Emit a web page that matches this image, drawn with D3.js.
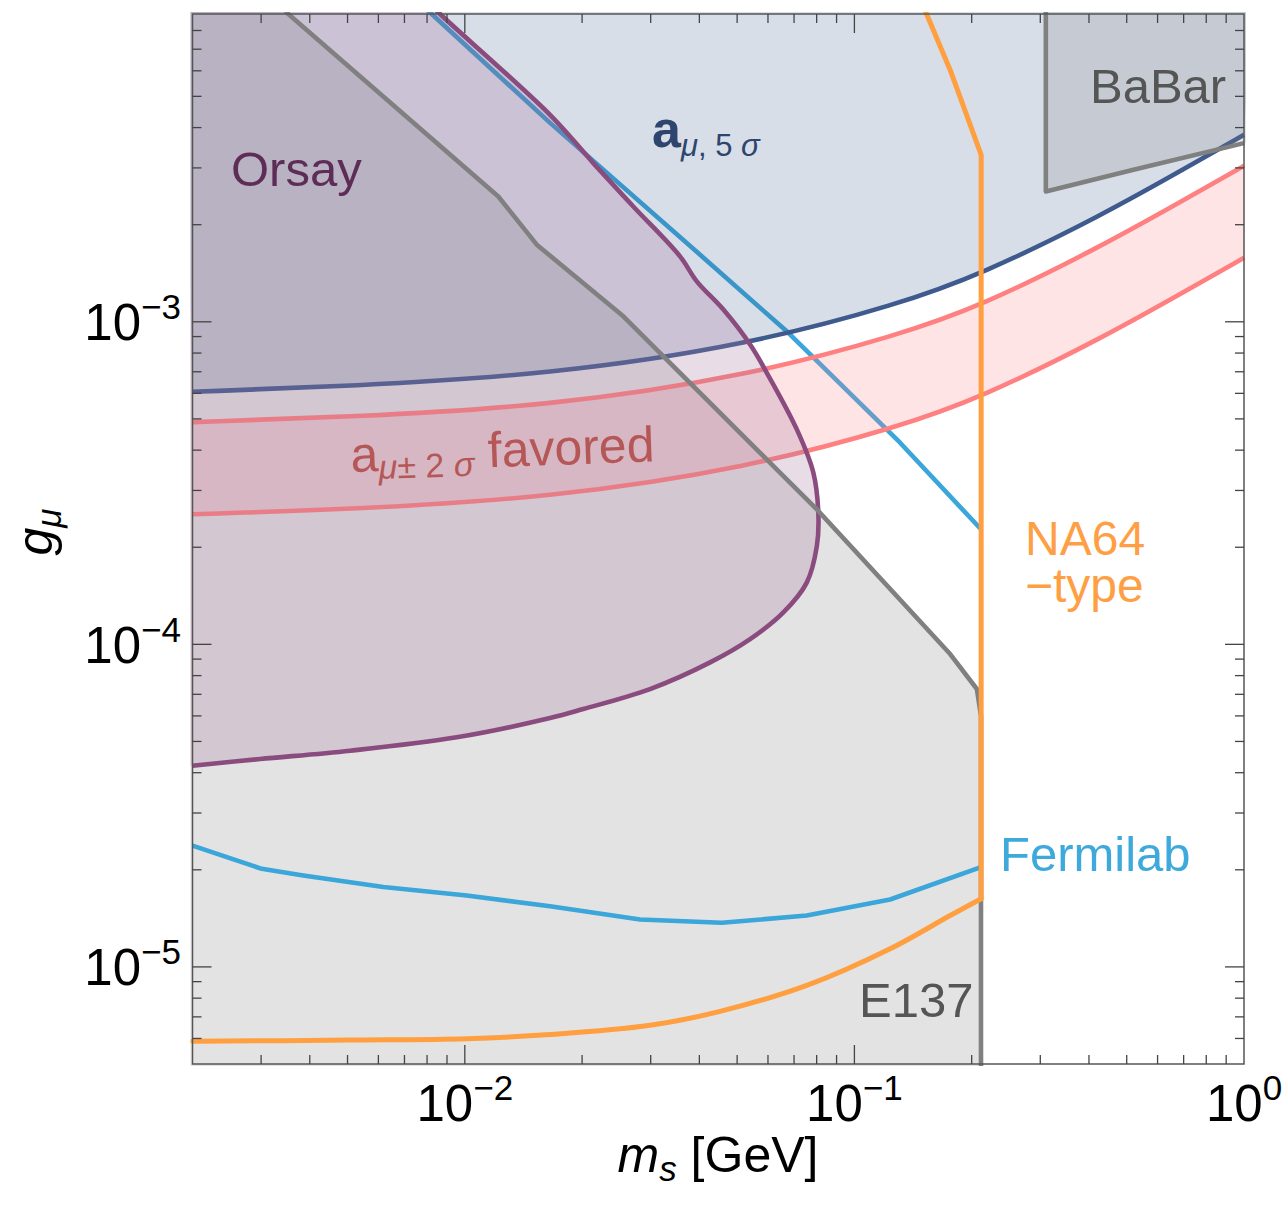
<!DOCTYPE html>
<html>
<head>
<meta charset="utf-8">
<script src="https://cdn.jsdelivr.net/npm/d3@7"></script>
<style>
  body { margin: 0; background: #fff; }
  svg { display: block; font-family: "Liberation Sans", Arial, Helvetica, sans-serif; }
</style>
</head>
<body>
<svg id="chart" width="1287" height="1206"></svg>
<script>
// axis ranges: scalar mass m_s [GeV] and coupling g_mu
const xDomain = [0.002, 1];
const yDomain = [5e-6, 9e-3];
const xMajor = [0.01, 0.1, 1];
const xMajorExp = ["\u22122", "\u22121", "0"];
const yMajor = [1e-5, 1e-4, 1e-3];
const yMajorExp = ["\u22125", "\u22124", "\u22123"];

// E137 exclusion boundary [m, g]
const e137 = [[0.00345, 0.0093], [0.003523, 0.009], [0.01219, 0.002446], [0.0153, 0.001734],
  [0.02552, 0.00104], [0.0801, 2.62e-4], [0.1761, 9.33e-5], [0.2062, 7.27e-5],
  [0.2113, 6.0e-5], [0.2113, 4.9e-6]];

// a_mu 5 sigma boundary
const amu5 = [[0.002, 6.067e-4], [0.005074, 6.315e-4], [0.01655, 6.863e-4], [0.05399, 8.5e-4],
  [0.131, 0.001138], [0.2103, 0.0014], [0.4273, 0.00212], [0.7719, 0.003178], [1.0, 0.0038]];

// a_mu +-2 sigma favoured band
const amuHi = [[0.002, 4.886e-4], [0.005074, 5.07e-4], [0.01655, 5.474e-4], [0.05399, 6.814e-4],
  [0.131, 9.13e-4], [0.2103, 0.001117], [0.4273, 0.001703], [0.7719, 0.002548], [1.0, 0.003046]];
const amuLo = [[0.002, 2.53e-4], [0.005074, 2.622e-4], [0.01655, 2.845e-4], [0.05399, 3.536e-4],
  [0.131, 4.737e-4], [0.2103, 5.813e-4], [0.4273, 8.827e-4], [0.7719, 0.001322], [1.0, 0.00158]];

// Orsay exclusion contour
const orsay = [[0.008141, 0.009663], [0.008636, 0.009], [0.01655, 0.004381], [0.02137, 0.003105],
  [0.02707, 0.002278], [0.03568, 0.001595], [0.03939, 0.001335], [0.0461, 0.001091],
  [0.05399, 8.5e-4], [0.05959, 6.947e-4], [0.07115, 4.638e-4], [0.07846, 3.405e-4],
  [0.08082, 2.53e-4], [0.0801, 2.018e-4], [0.07545, 1.554e-4], [0.06572, 1.256e-4],
  [0.05399, 1.038e-4], [0.04262, 8.79e-5], [0.02988, 7.265e-5], [0.02014, 6.302e-5],
  [0.01655, 5.91e-5], [0.009533, 5.15e-5], [0.005074, 4.68e-5], [0.002981, 4.41e-5],
  [0.002, 4.206e-5]];

// Fermilab projected reach (lower edge, upper edge)
const fermiLow = [[0.002, 2.377e-5], [0.003011, 2.014e-5], [0.00385, 1.92e-5], [0.006177, 1.768e-5],
  [0.01011, 1.665e-5], [0.01655, 1.541e-5], [0.02818, 1.403e-5], [0.04566, 1.37e-5],
  [0.07545, 1.443e-5], [0.1235, 1.618e-5], [0.2113, 2.038e-5]];
const fermiHigh = [[0.2113, 2.274e-4], [0.131, 4.218e-4], [0.06758, 9.26e-4], [0.04017, 0.001614],
  [0.01655, 0.004137], [0.008222, 0.009], [0.0079, 0.0094]];

// NA64-type reach
const na64Low = [[0.002, 5.88e-6], [0.005074, 5.93e-6], [0.01011, 5.99e-6], [0.01655, 6.17e-6],
  [0.02988, 6.59e-6], [0.04519, 7.28e-6], [0.07545, 8.76e-6], [0.1235, 1.138e-5],
  [0.1761, 1.443e-5], [0.2115, 1.626e-5]];
const na64High = [[0.2115, 1.626e-5], [0.2115, 0.003293], [0.1761, 0.006037], [0.1528, 0.009065],
  [0.1492, 0.00966]];

// BaBar exclusion
const babar = [[0.31, 0.0095], [0.31, 0.002535], [0.5204, 0.00296], [1.0, 0.00358]];

const svg = d3.select('#chart');
const margin = { left: 192.5, top: 14, right: 1244, bottom: 1064 };

const x = d3.scaleLog().domain(xDomain).range([margin.left, margin.right]);
const y = d3.scaleLog().domain(yDomain).range([margin.bottom, margin.top]);

const smooth = d3.line().x(d => x(d[0])).y(d => y(d[1])).curve(d3.curveCatmullRom.alpha(0.5));
const basis = d3.line().x(d => x(d[0])).y(d => y(d[1])).curve(d3.curveBasis);
const straight = d3.line().x(d => x(d[0])).y(d => y(d[1]));
const pt = d => x(d[0]) + ',' + y(d[1]);
const LW = 4.6;

svg.append('clipPath').attr('id', 'plotclip')
  .append('rect')
  .attr('x', margin.left - 2).attr('y', margin.top - 2)
  .attr('width', margin.right - margin.left + 4).attr('height', margin.bottom - margin.top + 4);

const plot = svg.append('g').attr('clip-path', 'url(#plotclip)');
const loX = 0.0019, hiX = 1.05, loY = 4.8e-6, hiY = 0.0097;

// E137 fill
plot.append('path')
  .attr('d', straight(e137) + 'L' + pt([loX, loY]) + 'L' + pt([loX, hiY]) + 'Z')
  .attr('fill', '#e3e3e3');

// Fermilab lines go under the translucent fills
[fermiLow, fermiHigh].forEach(s => {
  plot.append('path').attr('d', straight(s))
    .attr('fill', 'none').attr('stroke', '#3aa6d9').attr('stroke-width', LW).attr('stroke-linejoin', 'round');
});

// a_mu 5 sigma region
plot.append('path')
  .attr('d', basis(amu5) + 'L' + pt([hiX, hiY]) + 'L' + pt([loX, hiY]) + 'Z')
  .attr('fill', 'rgb(61,90,140)').attr('fill-opacity', 0.2);
plot.append('path').attr('d', basis(amu5))
  .attr('fill', 'none').attr('stroke', '#3f5b8e').attr('stroke-width', LW);

// a_mu +-2 sigma band
const bandPath = basis(amuHi) + 'L' + basis(amuLo.slice().reverse()).slice(1) + 'Z';
plot.append('path').attr('d', bandPath)
  .attr('fill', 'rgb(255,130,140)').attr('fill-opacity', 0.22);
[amuHi, amuLo].forEach(s => {
  plot.append('path').attr('d', basis(s))
    .attr('fill', 'none').attr('stroke', '#ff8080').attr('stroke-width', LW);
});

// Orsay region
plot.append('path')
  .attr('d', smooth(orsay) + 'L' + pt([loX, orsay[orsay.length - 1][1]]) + 'L' + pt([loX, hiY]) + 'Z')
  .attr('fill', 'rgb(163,115,155)').attr('fill-opacity', 0.25);
plot.append('path').attr('d', smooth(orsay))
  .attr('fill', 'none').attr('stroke', '#8a4c7e').attr('stroke-width', LW);

// E137 boundary
plot.append('path').attr('d', straight(e137))
  .attr('fill', 'none').attr('stroke', '#808080').attr('stroke-width', LW).attr('stroke-linejoin', 'round');

// BaBar
plot.append('path')
  .attr('d', straight(babar) + 'L' + pt([hiX, babar[3][1]]) + 'L' + pt([hiX, hiY]) + 'Z')
  .attr('fill', 'rgb(128,128,128)').attr('fill-opacity', 0.2);
plot.append('path').attr('d', straight(babar))
  .attr('fill', 'none').attr('stroke', '#808080').attr('stroke-width', LW).attr('stroke-linejoin', 'round');

// NA64-type
plot.append('path').attr('d', smooth(na64Low))
  .attr('fill', 'none').attr('stroke', '#ff9f40').attr('stroke-width', 5).attr('stroke-linecap', 'round');
plot.append('path').attr('d', straight(na64High))
  .attr('fill', 'none').attr('stroke', '#ff9f40').attr('stroke-width', 5)
  .attr('stroke-linecap', 'round').attr('stroke-linejoin', 'round');

// frame and ticks
const frame = svg.append('g');
frame.append('rect')
  .attr('x', margin.left).attr('y', margin.top)
  .attr('width', margin.right - margin.left).attr('height', margin.bottom - margin.top)
  .attr('fill', 'none').attr('stroke', '#555').attr('stroke-width', 1.5);

const xTicks = x.ticks().filter(v => v > xDomain[0] * 1.01 && v < xDomain[1] * 0.99);
const yTicks = y.ticks().filter(v => v > yDomain[0] * 1.01 && v < yDomain[1] * 0.99);
const isMajor = v => Math.abs(Math.log10(v) - Math.round(Math.log10(v))) < 1e-6;

xTicks.forEach(v => {
  const len = isMajor(v) ? 19 : 9;
  frame.append('line').attr('x1', x(v)).attr('x2', x(v))
    .attr('y1', margin.bottom).attr('y2', margin.bottom - len)
    .attr('stroke', '#444').attr('stroke-width', 1.3);
  frame.append('line').attr('x1', x(v)).attr('x2', x(v))
    .attr('y1', margin.top).attr('y2', margin.top + len)
    .attr('stroke', '#444').attr('stroke-width', 1.3);
});
yTicks.forEach(v => {
  const len = isMajor(v) ? 19 : 9;
  frame.append('line').attr('y1', y(v)).attr('y2', y(v))
    .attr('x1', margin.left).attr('x2', margin.left + len)
    .attr('stroke', '#444').attr('stroke-width', 1.3);
  frame.append('line').attr('y1', y(v)).attr('y2', y(v))
    .attr('x1', margin.right).attr('x2', margin.right - len)
    .attr('stroke', '#444').attr('stroke-width', 1.3);
});

// tick labels
xMajor.forEach((v, i) => {
  const t = svg.append('text').attr('x', x(v)).attr('y', 1121)
    .attr('text-anchor', 'middle').attr('font-size', 51).attr('fill', '#000');
  t.append('tspan').text('10');
  t.append('tspan').attr('font-size', 35).attr('dy', -21).text(xMajorExp[i]);
});
yMajor.forEach((v, i) => {
  const t = svg.append('text').attr('x', 181).attr('y', y(v) + 18.5)
    .attr('text-anchor', 'end').attr('font-size', 51).attr('fill', '#000');
  t.append('tspan').text('10');
  t.append('tspan').attr('font-size', 35).attr('dy', -21).text(yMajorExp[i]);
});

// axis titles
const xt = svg.append('text').attr('x', 718).attr('y', 1172)
  .attr('text-anchor', 'middle').attr('font-size', 50).attr('fill', '#000');
xt.append('tspan').attr('font-style', 'italic').text('m');
xt.append('tspan').attr('font-style', 'italic').attr('font-size', 35).attr('dy', 9).text('s');
xt.append('tspan').attr('dy', -9).text(' [GeV]');

const yt = svg.append('text').attr('transform', 'translate(52,532) rotate(-90)')
  .attr('text-anchor', 'middle').attr('font-size', 50).attr('fill', '#000');
yt.append('tspan').attr('font-style', 'italic').text('g');
yt.append('tspan').attr('font-style', 'italic').attr('font-size', 35).attr('dy', 9).text('\u03bc');

// region labels
const label = (tx, ty, str, color, fs) => svg.append('text').attr('x', tx).attr('y', ty)
  .attr('font-size', fs || 49).attr('fill', color).text(str);
label(231, 186, 'Orsay', '#5d2d57');
label(1090, 103, 'BaBar', '#555');
label(1000, 871, 'Fermilab', '#3eaadb');
label(859, 1017, 'E137', '#555');

// two-line NA64 label as one text block
const na = svg.append('text').attr('font-size', 48).attr('fill', '#ff9f45');
na.append('tspan').attr('x', 1025).attr('y', 555).text('NA64');
na.append('tspan').attr('x', 1025).attr('y', 602).text('\u2212type');

const a5 = svg.append('text').attr('x', 652).attr('y', 147).attr('fill', '#2e456e').attr('font-size', 52);
a5.append('tspan').attr('font-weight', 'bold').text('a');
a5.append('tspan').attr('font-size', 31).attr('dy', 9).attr('font-style', 'italic').text('\u03bc');
a5.append('tspan').attr('font-size', 31).text(', 5 ');
a5.append('tspan').attr('font-size', 31).attr('font-style', 'italic').text('\u03c3');

const fav = svg.append('text').attr('transform', 'translate(351,472) rotate(-2)')
  .attr('fill', '#b65757').attr('font-size', 50);
fav.append('tspan').text('a');
fav.append('tspan').attr('font-size', 34).attr('dy', 8).attr('font-style', 'italic').text('\u03bc');
fav.append('tspan').attr('font-size', 34).text('\u00b1 2 ');
fav.append('tspan').attr('font-size', 34).attr('font-style', 'italic').text('\u03c3');
fav.append('tspan').attr('dy', -8).text(' favored');
</script>
</body>
</html>
